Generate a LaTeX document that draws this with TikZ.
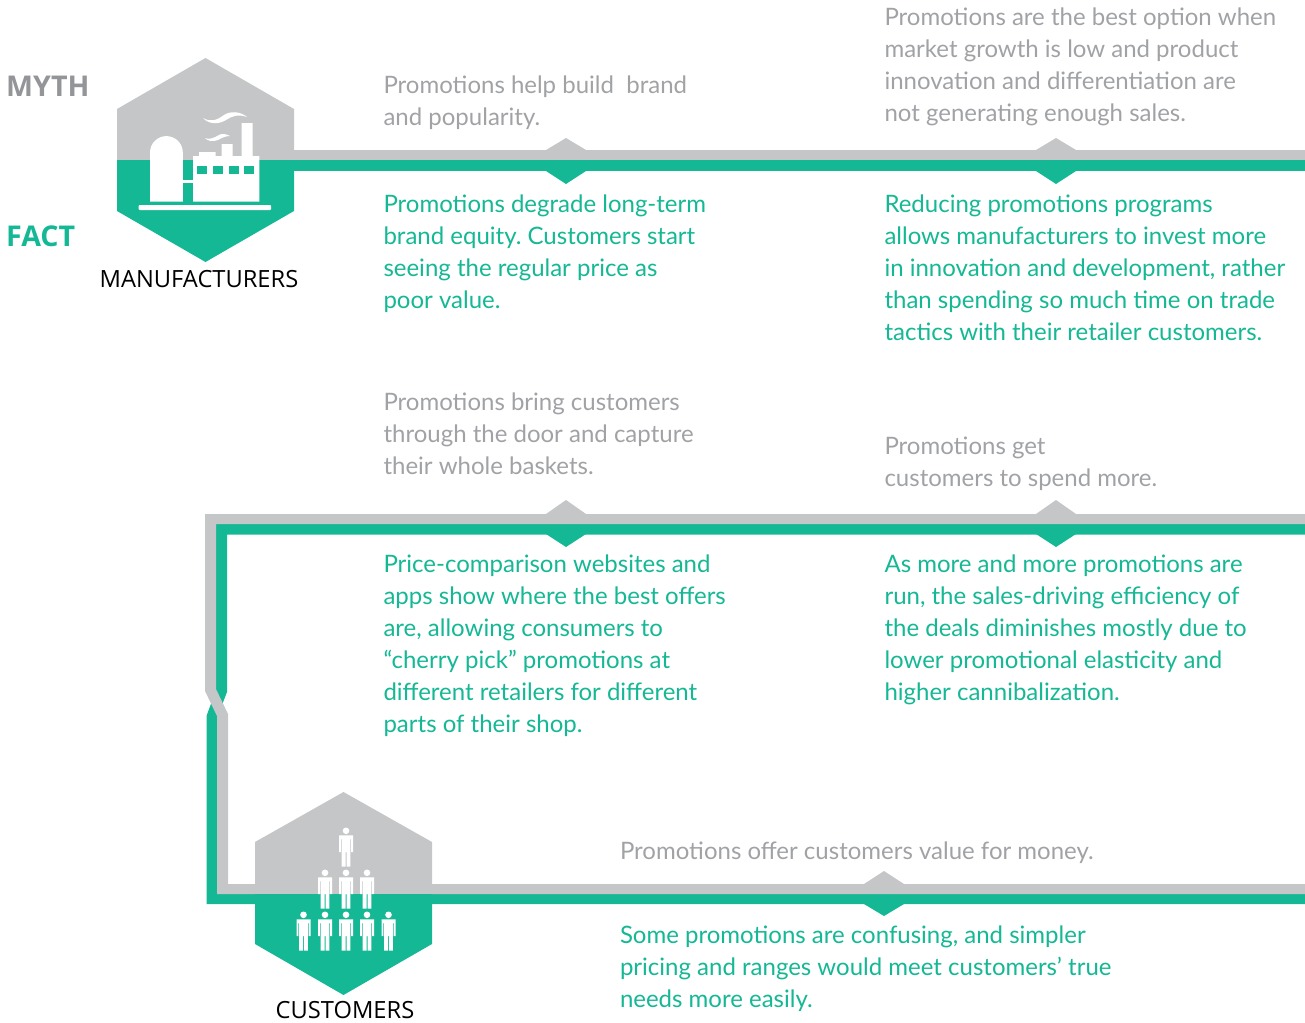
\documentclass[tikz,border=0pt]{standalone}
\usepackage{fontspec}
\setmainfont{Lato}
\newfontfamily\labelfont{Open Sans}
\definecolor{hexgray}{HTML}{C5C6C8}
\definecolor{brand}{HTML}{15B894}
\definecolor{mythtext}{HTML}{A0A2A5}
\definecolor{titlegray}{HTML}{939598}
\tikzset{
  x=1pt,y=-1pt,
  base/.style={inner sep=0pt,outer sep=0pt,anchor=base west,align=left,font=\fontsize{24}{32}\selectfont\frenchspacing},
  mythbox/.style={base,text=mythtext},
  factbox/.style={base,text=brand},
  graybar/.style={fill=hexgray,draw=none},
  greenbar/.style={fill=brand,draw=none},
  caption/.style={inner sep=0pt,anchor=base,font=\labelfont\fontsize{23.7}{28}\selectfont,text=black},
  keyword/.style={inner sep=0pt,anchor=base west,font=\labelfont\fontsize{28.6}{32}\selectfont\bfseries},
  icon/.style={fill=white,draw=none},
}
\newcommand{\person}[2]{%
  \begin{scope}[shift={(#1,#2)}]
    \fill[white] (0,3.8) circle (3.3);
    \fill[white] (-7,8.3) -- (-7,25) -- (-5.2,25) -- (-5.2,12) -- (-4.4,12) -- (-4.4,39.5) -- (-0.5,39.5) -- (-0.5,25) -- (0.5,25) -- (0.5,39.5) -- (4.4,39.5) -- (4.4,12) -- (5.2,12) -- (5.2,25) -- (7,25) -- (7,8.3) -- cycle;
  \end{scope}}
\begin{document}
\begin{tikzpicture}
\useasboundingbox (0,0) rectangle (1305,1022);
% connector bars
\fill[graybar] (294,150) rectangle (1305,160);
\fill[greenbar] (294,160) rectangle (1305,171);
% row 2 and return, green below gray at crossing
\fill[greenbar] (1305,524) -- (216,524) -- (216,690) -- (206.5,716) -- (206.5,904) -- (1305,904) -- (1305,894) -- (217,894) -- (217,718) -- (227,692) -- (227,534.5) -- (1305,534.5) -- cycle;
\fill[graybar] (1305,514) -- (205,514) -- (205,691) -- (217,716) -- (217,894) -- (1305,894) -- (1305,884) -- (228,884) -- (228,714) -- (216,689) -- (216,524) -- (1305,524) -- cycle;
% diamonds
\foreach \dx in {566,1056}{
  \fill[graybar] (\dx-20,150) -- (\dx,138) -- (\dx+20,150) -- cycle;
  \fill[greenbar] (\dx-20,171) -- (\dx,184) -- (\dx+20,171) -- cycle;
  \fill[graybar] (\dx-20,514) -- (\dx,500) -- (\dx+20,514) -- cycle;
  \fill[greenbar] (\dx-20,534) -- (\dx,547) -- (\dx+20,534) -- cycle;
}
\fill[graybar] (864,884) -- (884,871) -- (904,884) -- cycle;
\fill[greenbar] (864,904) -- (884,916) -- (904,904) -- cycle;
% manufacturers hexagon
\fill[graybar] (117,160) -- (117,109) -- (205.5,58) -- (294,109) -- (294,160) -- cycle;
\fill[greenbar] (117,160) -- (117,211) -- (205.5,262) -- (294,211) -- (294,160) -- cycle;
% factory
\fill[icon,rounded corners=1pt] (138.5,205) rectangle (271,210);
\fill[icon] (150,201.5) -- (150,152.5) arc[start angle=180,end angle=360,radius=16.4] -- (182.8,201.5) -- cycle;
\fill[icon] (182.8,179.5) rectangle (193,182.5);
\fill[icon] (193,201.5) -- (193,156) -- (199,156) -- (199,152) -- (215.5,152) -- (215.5,156) -- (221.7,156) -- (221.7,144) -- (232.7,144) -- (232.7,156) -- (241.7,156) -- (241.7,123) -- (252.7,123) -- (252.7,156) -- (259.3,156) -- (259.3,201.5) -- cycle;
\foreach \wx in {197,213,229,244.3}
  \fill[greenbar] (\wx,166) rectangle (\wx+10,174);
\fill[icon] (203,118) .. controls (210,122) and (216,121) .. (224,115) .. controls (230,111) and (240,111) .. (247,117) .. controls (238,114) and (232,116) .. (226,120) .. controls (218,125) and (208,124) .. (203,118) -- cycle;
\fill[icon] (205,138) .. controls (209,140) and (214,138) .. (219,135) .. controls (222,133) and (226,134) .. (230,136) .. controls (225,136) and (222,138) .. (218,140) .. controls (213,142) and (207,141) .. (205,138) -- cycle;
% customers hexagon
\fill[graybar] (255,894) -- (255,842) -- (343.5,792) -- (432,842) -- (432,894) -- cycle;
\fill[greenbar] (255,894) -- (255,944) -- (343.5,995) -- (432,944) -- (432,894) -- cycle;
\person{346}{827}
\person{325}{869}\person{346}{869}\person{367}{869}
\person{303.5}{911}\person{325}{911}\person{346}{911}\person{367}{911}\person{388.5}{911}
% text
\node[keyword,text=titlegray] (myth) at (6,97) {MYTH};
\node[keyword,text=brand] (fact) at (6,246) {FACT};
\node[caption] (manu) at (199,287) {MANUFACTURERS};
\node[caption] (cust) at (345,1018) {CUSTOMERS};
\node[mythbox] (m1) at (383.5,125.5) {Promotions help build~ brand\\and popularity.};
\node[factbox] (f1) at (383.5,308.5) {Promotions degrade long-term\\brand equity. Customers start\\seeing the regular price as\\poor value.};
\node[mythbox] (m2) at (884.5,121.5) {Promotions are the best option when\\market growth is low and product\\innovation and differentiation are\\not generating enough sales.};
\node[factbox] (f2) at (884.5,340.5) {Reducing promotions programs\\allows manufacturers to invest more\\in innovation and development, rather\\than spending so much time on trade\\tactics with their retailer customers.};
\node[mythbox] (m3) at (383.5,474.5) {Promotions bring customers\\through the door and capture\\their whole baskets.};
\node[factbox] (f3) at (383.5,732.5) {Price-comparison websites and\\apps show where the best offers\\are, allowing consumers to\\“cherry pick” promotions at\\different retailers for different\\parts of their shop.};
\node[mythbox] (m4) at (884.5,486.5) {Promotions get\\customers to spend more.};
\node[factbox] (f4) at (884.5,700.5) {As more and more promotions are\\run, the sales-driving efficiency of\\the deals diminishes mostly due to\\lower promotional elasticity and\\higher cannibalization.};
\node[mythbox] (m5) at (620,859.5) {Promotions offer customers value for money.};
\node[factbox] (f5) at (620,1007.5) {Some promotions are confusing, and simpler\\pricing and ranges would meet customers’ true\\needs more easily.};
\end{tikzpicture}
\end{document}
